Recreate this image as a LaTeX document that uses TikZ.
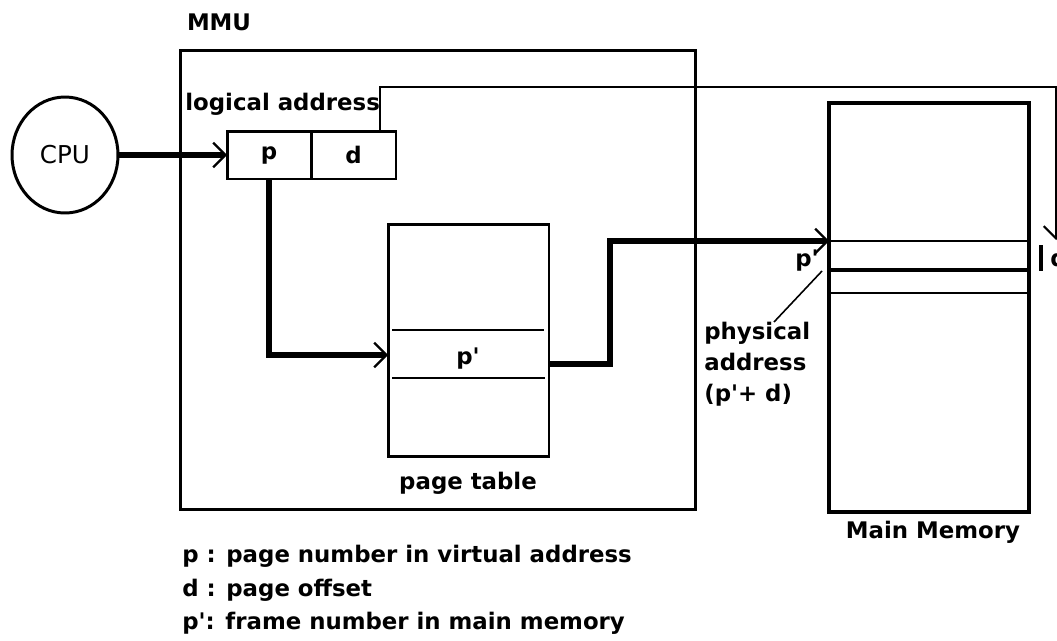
\documentclass[tikz,border=0pt]{standalone}
\usepackage{fontspec}
\setmainfont{DejaVu Sans}[Ligatures=TeXOff]
\usetikzlibrary{arrows.meta,shapes.geometric}
\begin{document}
\begin{tikzpicture}[x=0.02cm,y=-0.02cm,
  every node/.style={font=\bfseries\fontsize{13}{16}\selectfont},
  boxc/.style={draw,rectangle,inner sep=0pt,outer sep=0pt,line width=1.7pt},
  thickc/.style={line width=3pt},
  thinc/.style={line width=1.1pt},
  arr/.style={-{Straight Barb[length=7pt,width=14pt,line width=1.3pt]}},
  lbl/.style={inner sep=0pt}]
\useasboundingbox (0,0) rectangle (1057,640);
% boxes
\node[boxc,minimum width=10.32cm,minimum height=9.2cm] (mmu) at (438,280) {};
\node[draw,ellipse,inner sep=0pt,outer sep=0pt,line width=1.7pt,minimum width=2.12cm,minimum height=2.32cm,font=\fontsize{14}{16}\selectfont] (cpu) at (65,155) {CPU};
\node[boxc,minimum width=1.68cm,minimum height=0.96cm] (pcell) at (269,155) {p};
\node[boxc,minimum width=1.70cm,minimum height=0.96cm] (dcell) at (353.5,155) {d};
\node[boxc,minimum width=3.22cm,minimum height=4.66cm] (pt) at (468.5,340.5) {};
\node[boxc,line width=2.3pt,minimum width=4cm,minimum height=8.18cm] (mm) at (929,307.5) {};
% labels
\node[lbl] (mmulbl) at (219,22) {MMU};
\node[lbl,anchor=west] (lalbl) at (185,104) {logical address};
\node[lbl] (pprime) at (468,359) {p'};
\node[lbl] (ptlbl) at (468,483) {page table};
\node[lbl] (mmlbl) at (933,532) {Main Memory};
\node[lbl] (pp2) at (807,261) {p'};
\node[lbl,anchor=west,align=left,font=\bfseries\fontsize{13}{17.5}\selectfont] (phys) at (704,364) {physical\\address\\(p'+ d)};
\node[lbl,anchor=west,align=left,font=\bfseries\fontsize{13}{19.2}\selectfont] (legend) at (182,590) {p : page number in virtual address\\d : page offset\\p': frame number in main memory};
\node[lbl,anchor=west] (dlbl) at (1050,258) {d};
% page table rows
\draw[thinc] (392,330) -- (544,330);
\draw[thinc] (392,378) -- (545,378);
% main memory rows
\coordinate (frame) at (829,241);
\draw[thinc] (frame) -- (mm.east |- frame);
\coordinate (frame2) at (829,270);
\draw[line width=2.3pt] (frame2) -- (mm.east |- frame2);
\coordinate (frame3) at (829,293);
\draw[thinc] (frame3) -- (mm.east |- frame3);
% connectors
\draw[thickc,arr] (cpu.east) -- (pcell.west);
\draw[thickc,arr] (pcell.south) |- ([yshift=-0.29cm]pt.west);
\draw[thickc,arr] ([yshift=-0.47cm]pt.east) -- ++(61,0) |- (frame);
\coordinate (dend) at (1056,240);
\draw[thinc,arr] ([xshift=0.53cm]dcell.north) -- ++(0,-44) -| (dend);
\coordinate (ptrend) at (822,271);
\coordinate (ptrstart) at (774,322);
\draw[line width=0.9pt] (ptrstart) -- (ptrend);
\coordinate (bartop) at (1041,245);
\coordinate (barbot) at (1041,271);
\draw[line width=2.5pt] (bartop) -- (barbot);
\end{tikzpicture}
\end{document}
